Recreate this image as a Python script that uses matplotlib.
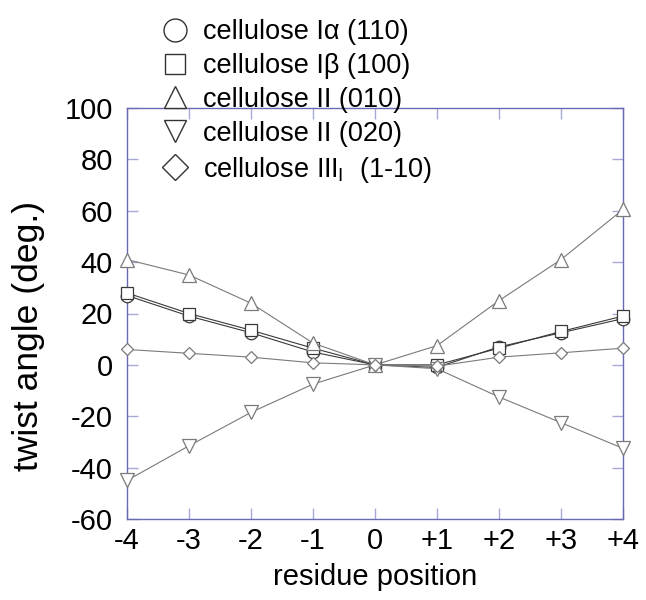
import matplotlib
matplotlib.use("Agg")
import matplotlib.pyplot as plt
from matplotlib.lines import Line2D

plt.rcParams['font.family'] = ['Liberation Sans', 'DejaVu Sans']
plt.rcParams['mathtext.fontset'] = 'custom'
plt.rcParams['mathtext.rm'] = 'Liberation Sans'
plt.rcParams['axes.unicode_minus'] = False

# residue positions and twist angles (deg.)
positions = [-4, -3, -2, -1, 0, 1, 2, 3, 4]
pos_labels = ['-4', '-3', '-2', '-1', '0', '+1', '+2', '+3', '+4']
ia_110 = [27, 19, 12.5, 5, 0, -1, 7, 12.5, 18]
ib_100 = [28, 20, 13.5, 6.5, 0, 0, 6.5, 13, 19]
ii_010 = [41, 35, 24, 8.5, 0, 7.5, 25, 41, 60.5]
ii_020 = [-45, -31.5, -18.5, -7.5, 0, -1.5, -12.5, -22.5, -32.5]
iii_1m10 = [6, 4.5, 3, 0.8, 0, -0.5, 3, 4.7, 6.5]

# data, marker, size in plot, size in legend, colour, label
series = [
    (ia_110, 'o', 9, 16.5, '#3a3a3a', 'cellulose I\u03b1 (110)'),
    (ib_100, 's', 9, 15, '#3a3a3a', 'cellulose I\u03b2 (100)'),
    (ii_010, '^', 9.5, 16.5, '#7a7a7a', 'cellulose II (010)'),
    (ii_020, 'v', 9.5, 16.5, '#7a7a7a', 'cellulose II (020)'),
    (iii_1m10, 'D', 6.6, 13, '#7a7a7a', r'cellulose III$_\mathregular{I}$  (1-10)'),
]

fig = plt.figure(figsize=(6.46, 6.0), dpi=100)
ax = fig.add_axes([0.1966, 0.135, 0.7678, 0.685])

handles = []
for vals, mk, ms, lms, col, lab in series:
    ax.plot(positions, vals, color=col, lw=0.8, marker=mk, ms=ms,
            mfc='white', mec=col, mew=0.9, clip_on=False, zorder=3)
    handles.append(Line2D([], [], ls='none', marker=mk, ms=lms,
                          mfc='white', mec='#333333', mew=1.0, label=lab))

ax.set_xlim(-4, 4)
ax.set_ylim(-60, 100)
ax.set_xticks(positions)
ax.set_xticklabels(pos_labels)
ax.set_yticks(range(-60, 101, 20))

spine_col = '#6a6ab4'
for s in ax.spines.values():
    s.set_color(spine_col)
    s.set_linewidth(1.0)
ax.tick_params(direction='in', length=8, width=1.0, color='#a8a8d8',
               top=True, right=True, labelsize=21)
ax.tick_params(axis='y', pad=10)
ax.tick_params(axis='x', pad=6)

ax.set_xlabel('residue position', fontsize=21)
ax.xaxis.set_label_coords(0.5, -0.108)
ax.set_ylabel('twist angle (deg.)', fontsize=25.5)
ax.yaxis.set_label_coords(-0.165, 0.445)

fig.legend(handles=handles, loc='upper left', bbox_to_anchor=(0.25, 0.968),
           frameon=False, fontsize=19.5, handlelength=1.0, handletextpad=0.54,
           labelspacing=0.29, borderpad=0, borderaxespad=0)

fig.savefig('out.png', dpi=100)
